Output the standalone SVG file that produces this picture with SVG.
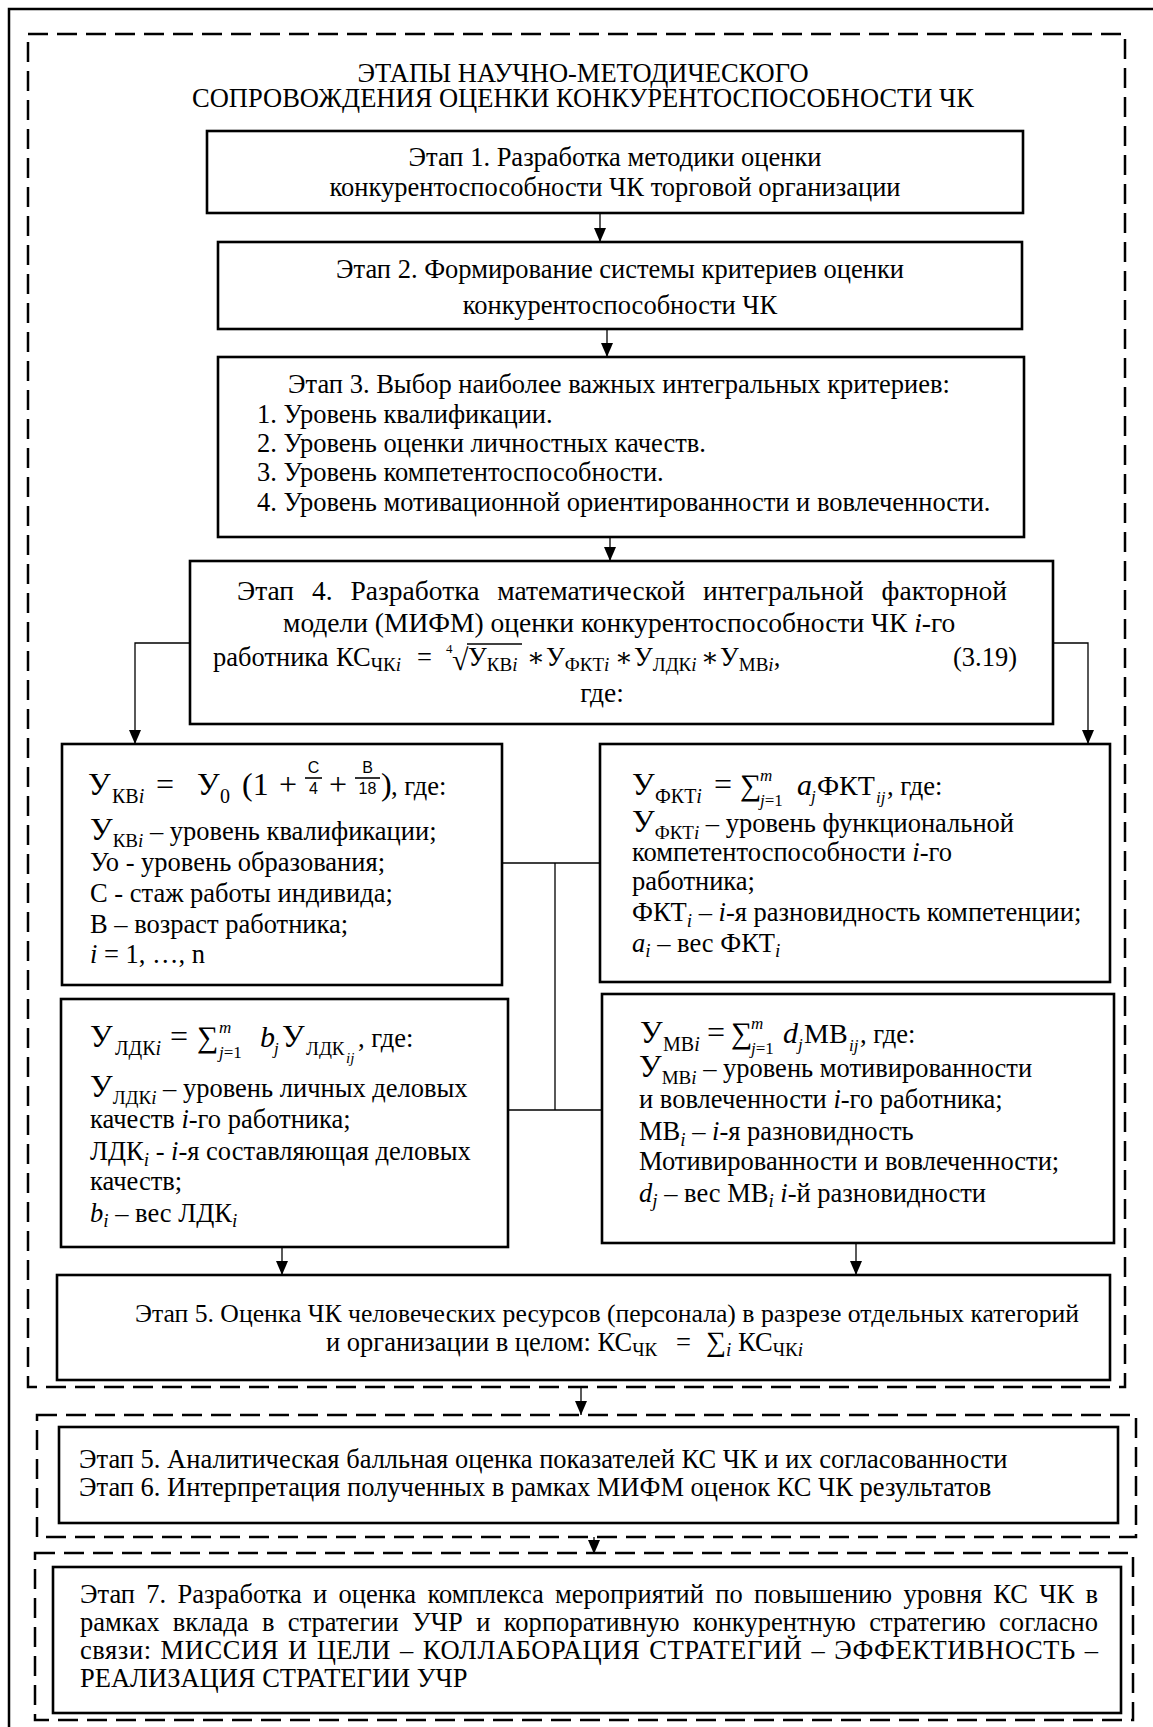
<svg xmlns="http://www.w3.org/2000/svg" width="1153" height="1727" viewBox="0 0 1153 1727">
<defs>
<style>
.t{font-family:"Liberation Serif","Times New Roman","DejaVu Serif",serif;font-size:26.5px;fill:#000}
.mid{text-anchor:middle}
.i{font-style:italic}
.s{font-size:19px}
.m{font-size:32px}
.sans{font-family:"Liberation Sans",Arial,sans-serif;font-size:16px}
.box{fill:#fff;stroke:#000;stroke-width:2.6}
.dash{fill:none;stroke:#000;stroke-width:2.5;stroke-dasharray:20 9}
.conn{fill:none;stroke:#000;stroke-width:1.3}
.bar{stroke:#000;stroke-width:1.6}
</style>
<marker id="ah" markerUnits="userSpaceOnUse" markerWidth="14" markerHeight="12" refX="14" refY="6" orient="auto"><path d="M0,0 L14,6 L0,12 Z" fill="#000"/></marker>
</defs>
<rect width="1153" height="1727" fill="#fff"/>
<g id="frame">
<rect x="9" y="9" width="1170" height="1740" fill="none" stroke="#000" stroke-width="2.5"/>
<rect class="dash" x="28" y="34" width="1097" height="1353"/>
<rect class="dash" x="37" y="1415" width="1099" height="122"/>
<rect class="dash" x="35" y="1553" width="1098" height="167"/>
</g>
<g id="title">
<text class="t mid" x="583" y="82">ЭТАПЫ НАУЧНО-МЕТОДИЧЕСКОГО</text>
<text class="t mid" x="583" y="107">СОПРОВОЖДЕНИЯ ОЦЕНКИ КОНКУРЕНТОСПОСОБНОСТИ ЧК</text>
</g>
<g id="connectors">
<line class="conn" x1="600" y1="213" x2="600" y2="242" marker-end="url(#ah)"/>
<line class="conn" x1="607" y1="329" x2="607" y2="357" marker-end="url(#ah)"/>
<line class="conn" x1="610" y1="537" x2="610" y2="561" marker-end="url(#ah)"/>
<path class="conn" d="M190,643 H135 V744" marker-end="url(#ah)"/>
<path class="conn" d="M1053,643 H1088 V744" marker-end="url(#ah)"/>
<path class="conn" d="M502,863 H600 M555,863 V1110 M508,1110 H602"/>
<line class="conn" x1="282" y1="1247" x2="282" y2="1275" marker-end="url(#ah)"/>
<line class="conn" x1="856" y1="1243" x2="856" y2="1275" marker-end="url(#ah)"/>
<line class="conn" x1="581" y1="1387" x2="581" y2="1415" marker-end="url(#ah)"/>
<line class="conn" x1="594" y1="1537" x2="594" y2="1554" marker-end="url(#ah)"/>
</g>
<g id="stage1">
<rect class="box" x="207" y="131" width="816" height="82"/>
<text class="t mid" x="615" y="166">Этап 1. Разработка методики оценки</text>
<text class="t mid" x="615" y="196">конкурентоспособности ЧК торговой организации</text>
</g>
<g id="stage2">
<rect class="box" x="218" y="242" width="804" height="87"/>
<text class="t mid" x="620" y="278">Этап 2. Формирование системы критериев оценки</text>
<text class="t mid" x="620" y="314">конкурентоспособности ЧК</text>
</g>
<g id="stage3">
<rect class="box" x="218" y="357" width="806" height="180"/>
<text class="t mid" x="619" y="393">Этап 3. Выбор наиболее важных интегральных критериев:</text>
<text class="t" x="257" y="423">1. Уровень квалификации.</text>
<text class="t" x="257" y="452">2. Уровень оценки личностных качеств.</text>
<text class="t" x="257" y="481">3. Уровень компетентоспособности.</text>
<text class="t" x="257" y="511">4. Уровень мотивационной ориентированности и вовлеченности.</text>
</g>
<g id="stage4">
<rect class="box" x="190" y="561" width="863" height="163"/>
<text class="t" x="237" y="600" style="font-size:27.5px" word-spacing="11" textLength="770" lengthAdjust="spacing">Этап 4. Разработка математической интегральной факторной</text>
<text class="t" x="283" y="632" style="font-size:27.5px">модели (МИФМ) оценки конкурентоспособности ЧК <tspan class="i">i</tspan>-го</text>
<text class="t" y="666"><tspan x="213">работника</tspan><tspan x="336">КС</tspan><tspan class="s" dy="5">ЧК</tspan><tspan class="s i">i</tspan><tspan x="417" dy="-5">=</tspan><tspan x="446" y="653" style="font-size:13px">4</tspan><tspan x="452" y="670" style="font-size:30px">√</tspan><tspan x="468" y="666">У</tspan><tspan class="s" dy="5">КВ</tspan><tspan class="s i">i</tspan><tspan x="527" dy="-5">∗</tspan><tspan x="546">У</tspan><tspan class="s" dy="5">ФКТ</tspan><tspan class="s i">i</tspan><tspan x="615" dy="-5">∗</tspan><tspan x="634">У</tspan><tspan class="s" dy="5">ЛДК</tspan><tspan class="s i">i</tspan><tspan x="701" dy="-5">∗</tspan><tspan x="720">У</tspan><tspan class="s" dy="5">МВ</tspan><tspan class="s i">i</tspan><tspan dy="-5">,</tspan><tspan x="953">(3.19)</tspan></text>
<line class="bar" x1="467" y1="644" x2="522" y2="644" style="stroke-width:1.3"/>
<text class="t mid" x="602" y="702" style="font-size:27.5px">где:</text>
</g>
<g id="kv">
<rect class="box" x="62" y="744" width="440" height="241"/>
<text class="t m" y="795"><tspan x="88">У</tspan><tspan class="s" style="font-size:20px" x="112" dy="8">КВ</tspan><tspan class="s i" style="font-size:20px">i</tspan><tspan x="156" dy="-8">=</tspan><tspan x="197">У</tspan><tspan style="font-size:20px" x="220" dy="8">0</tspan><tspan x="242" dy="-8">(1</tspan><tspan x="279">+</tspan><tspan x="329">+</tspan><tspan x="381">)</tspan><tspan x="391" style="font-size:26.5px">, где:</tspan></text>
<line class="bar" x1="305" y1="778" x2="322" y2="778"/>
<line class="bar" x1="355" y1="778" x2="380" y2="778"/>
<text class="sans mid"><tspan x="313.5" y="773">С</tspan><tspan x="313.5" y="794">4</tspan><tspan x="367.5" y="773">В</tspan><tspan x="367.5" y="794">18</tspan></text>
<text class="t" x="90" y="840"><tspan class="m">У</tspan><tspan class="s" dy="7">КВ</tspan><tspan class="s i">i</tspan><tspan dy="-7"> – уровень квалификации;</tspan></text>
<text class="t" x="90" y="871">Уо - уровень образования;</text>
<text class="t" x="90" y="902">С - стаж работы индивида;</text>
<text class="t" x="90" y="933">В – возраст работника;</text>
<text class="t" x="90" y="963"><tspan class="i">i</tspan> = 1, …, n</text>
</g>
<g id="fkt">
<rect class="box" x="600" y="744" width="510" height="238"/>
<text class="t m" y="795"><tspan x="632">У</tspan><tspan style="font-size:20px" x="655" dy="8">ФКТ</tspan><tspan class="i" style="font-size:20px">i</tspan><tspan x="714" dy="-8">=</tspan><tspan x="740" style="font-size:30px">∑</tspan><tspan class="i" x="760" y="781" style="font-size:17px">m</tspan><tspan x="760" y="806" style="font-size:17px"><tspan class="i">j</tspan>=1</tspan><tspan class="i" x="797" y="795" style="font-size:30px">a</tspan><tspan class="i" x="811" y="802" style="font-size:17px">j</tspan><tspan x="817" y="795" style="font-size:28px">ФКТ</tspan><tspan class="i" x="876" y="803" style="font-size:17px">ij</tspan><tspan x="887" y="795" style="font-size:26.5px">, где:</tspan></text>
<text class="t" x="632" y="832"><tspan class="m">У</tspan><tspan class="s" dy="7">ФКТ</tspan><tspan class="s i">i</tspan><tspan dy="-7"> – уровень функциональной</tspan></text>
<text class="t" x="632" y="861">компетентоспособности <tspan class="i">i</tspan>-го</text>
<text class="t" x="632" y="890">работника;</text>
<text class="t" x="632" y="921">ФКТ<tspan class="s i" dy="6">i</tspan><tspan dy="-6"> – </tspan><tspan class="i">i</tspan>-я разновидность компетенции;</text>
<text class="t" x="632" y="952"><tspan class="i">a</tspan><tspan class="s i" dy="5">i</tspan><tspan dy="-5"> – вес ФКТ</tspan><tspan class="s i" dy="5">i</tspan></text>
</g>
<g id="ldk">
<rect class="box" x="61" y="999" width="447" height="248"/>
<text class="t m" y="1047"><tspan x="90">У</tspan><tspan x="115" dy="8" style="font-size:20px">ЛДК</tspan><tspan class="i" style="font-size:20px">i</tspan><tspan x="170" dy="-8">=</tspan><tspan x="197" style="font-size:30px">∑</tspan><tspan class="i" x="219" y="1033" style="font-size:17px">m</tspan><tspan x="219" y="1058" style="font-size:17px"><tspan class="i">j</tspan>=1</tspan><tspan class="i" x="260" y="1047" style="font-size:30px">b</tspan><tspan class="i" x="274" y="1054" style="font-size:17px">j</tspan><tspan x="282" y="1047">У</tspan><tspan x="306" y="1055" style="font-size:19px">ЛДК</tspan><tspan class="i" x="346" y="1063" style="font-size:15px">ij</tspan><tspan x="358" y="1047" style="font-size:26.5px">, где:</tspan></text>
<text class="t" x="90" y="1097"><tspan class="m">У</tspan><tspan class="s" dy="7">ЛДК</tspan><tspan class="s i">i</tspan><tspan dy="-7"> – уровень личных деловых</tspan></text>
<text class="t" x="90" y="1128">качеств <tspan class="i">i</tspan>-го работника;</text>
<text class="t" x="90" y="1160">ЛДК<tspan class="s i" dy="6">i</tspan><tspan dy="-6"> - </tspan><tspan class="i">i</tspan>-я составляющая деловых</text>
<text class="t" x="90" y="1190">качеств;</text>
<text class="t" x="90" y="1222"><tspan class="i">b</tspan><tspan class="s i" dy="5">i</tspan><tspan dy="-5"> – вес ЛДК</tspan><tspan class="s i" dy="5">i</tspan></text>
</g>
<g id="mv">
<rect class="box" x="602" y="994" width="512" height="249"/>
<text class="t m" y="1043"><tspan x="640">У</tspan><tspan x="663" dy="8" style="font-size:20px">МВ</tspan><tspan class="i" style="font-size:20px">i</tspan><tspan x="707" dy="-8">=</tspan><tspan x="731" style="font-size:30px">∑</tspan><tspan class="i" x="751" y="1029" style="font-size:17px">m</tspan><tspan x="751" y="1054" style="font-size:17px"><tspan class="i">j</tspan>=1</tspan><tspan class="i" x="783" y="1043" style="font-size:30px">d</tspan><tspan class="i" x="798" y="1050" style="font-size:17px">j</tspan><tspan x="804" y="1043" style="font-size:28px">МВ</tspan><tspan class="i" x="849" y="1051" style="font-size:17px">ij</tspan><tspan x="860" y="1043" style="font-size:26.5px">, где:</tspan></text>
<text class="t" x="639" y="1077"><tspan class="m">У</tspan><tspan class="s" dy="7">МВ</tspan><tspan class="s i">i</tspan><tspan dy="-7"> – уровень мотивированности</tspan></text>
<text class="t" x="639" y="1108">и вовлеченности <tspan class="i">i</tspan>-го работника;</text>
<text class="t" x="639" y="1140">МВ<tspan class="s i" dy="6">i</tspan><tspan dy="-6"> – </tspan><tspan class="i">i</tspan>-я разновидность</text>
<text class="t" x="639" y="1170">Мотивированности и вовлеченности;</text>
<text class="t" x="639" y="1202"><tspan class="i">d</tspan><tspan class="s i" dy="5">j</tspan><tspan dy="-5"> – вес МВ</tspan><tspan class="s i" dy="5">i</tspan><tspan dy="-5"> </tspan><tspan class="i">i</tspan>-й разновидности</text>
</g>
<g id="stage5">
<rect class="box" x="57" y="1275" width="1053" height="105"/>
<text class="t mid" x="607" y="1322" style="font-size:25.7px">Этап 5. Оценка ЧК человеческих ресурсов (персонала) в разрезе отдельных категорий</text>
<text class="t" y="1351"><tspan x="326">и организации в целом: КС</tspan><tspan class="s" dy="5">ЧК</tspan><tspan x="676" dy="-5">=</tspan><tspan x="706" style="font-size:28px">∑</tspan><tspan class="s i" dy="5">i</tspan><tspan x="738" dy="-5">КС</tspan><tspan class="s" dy="5">ЧК</tspan><tspan class="s i">i</tspan></text>
</g>
<g id="stage56">
<rect class="box" x="59" y="1427" width="1059" height="96"/>
<text class="t" x="79" y="1468">Этап 5. Аналитическая балльная оценка показателей КС ЧК и их согласованности</text>
<text class="t" x="79" y="1496">Этап 6. Интерпретация полученных в рамках МИФМ оценок КС ЧК результатов</text>
</g>
<g id="stage7">
<rect class="box" x="53" y="1567" width="1068" height="146"/>
<text class="t" x="80" y="1603" word-spacing="4.6" textLength="1018" lengthAdjust="spacing">Этап 7. Разработка и оценка комплекса мероприятий по повышению уровня КС ЧК в</text>
<text class="t" x="80" y="1631" word-spacing="6.7" textLength="1018" lengthAdjust="spacing">рамках вклада в стратегии УЧР и корпоративную конкурентную стратегию согласно</text>
<text class="t" x="80" y="1659" word-spacing="1.8" textLength="1018" lengthAdjust="spacing">связи: МИССИЯ И ЦЕЛИ – КОЛЛАБОРАЦИЯ СТРАТЕГИЙ – ЭФФЕКТИВНОСТЬ –</text>
<text class="t" x="80" y="1687">РЕАЛИЗАЦИЯ СТРАТЕГИИ УЧР</text>
</g>
</svg>
